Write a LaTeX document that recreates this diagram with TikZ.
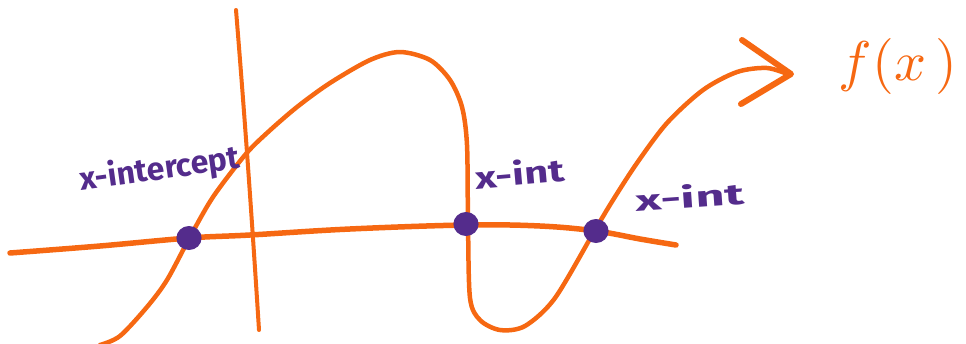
\documentclass[tikz,border=0pt]{standalone}
\usepackage{fontspec}
\setmainfont{Fira Sans}
\definecolor{sketchorange}{RGB}{246,104,18}
\definecolor{sketchpurple}{RGB}{84,44,140}
\begin{document}
\begin{tikzpicture}[x=1pt,y=-1pt,
  stroke/.style={draw=sketchorange,line width=4.5pt,line cap=round,line join=round},
  dot/.style={circle,fill=sketchpurple,minimum width=24pt,minimum height=24pt,inner sep=0pt,xscale=1.05},
  lab/.style={text=sketchpurple,inner sep=0pt}]
\useasboundingbox (0,0) rectangle (966,343);
% x-axis
\draw[stroke,line width=5.5pt] plot[smooth,tension=0.6] coordinates
  {(10,253) (100,246) (189,238) (250,235) (350,229) (466,225) (540,226) (596,231) (640,239) (676,245)};
% y-axis
\draw[stroke,line width=4pt] (236,10) .. controls (245,120) and (252,220) .. (259,330);
% function curve
\draw[stroke] plot[smooth,tension=0.5] coordinates
  {(100,345) (120,336) (147,307) (167,280) (190,237) (213,197) (245,155) (267,133) (297,107) (330,83) (370,60) (400,52) (430,60) (450,80) (462,107) (467,145) (468,223) (470,298) (480,320) (500,330) (525,326) (555,298) (595,230) (613,200) (637,163) (667,123) (703,90) (737,72) (767,68) (790,75)};
% arrowhead
\draw[stroke,line width=6pt] (742,40) -- (791,74) -- (741,104);
% label f(x)
\node[text=sketchorange,inner sep=0pt] (fx) at (898,66) {\scalebox{5.6}{$f(x\,)$}};
% intercept dots
\node[dot] (d1) at (189,238) {};
\node[dot] (d2) at (466,224) {};
\node[dot] (d3) at (596,231) {};
% labels
\node[lab,font=\bfseries\fontsize{32}{32}\selectfont,rotate=8] (l1) at (160,170) {x-intercept};
\node[lab,font=\bfseries\fontsize{31}{31}\selectfont,rotate=5,xscale=1.35] (l2) at (520,173) {x-int};
\node[lab,font=\bfseries\fontsize{29}{29}\selectfont,rotate=4,xscale=1.75] (l3) at (690,196) {x-int};
\end{tikzpicture}
\end{document}
